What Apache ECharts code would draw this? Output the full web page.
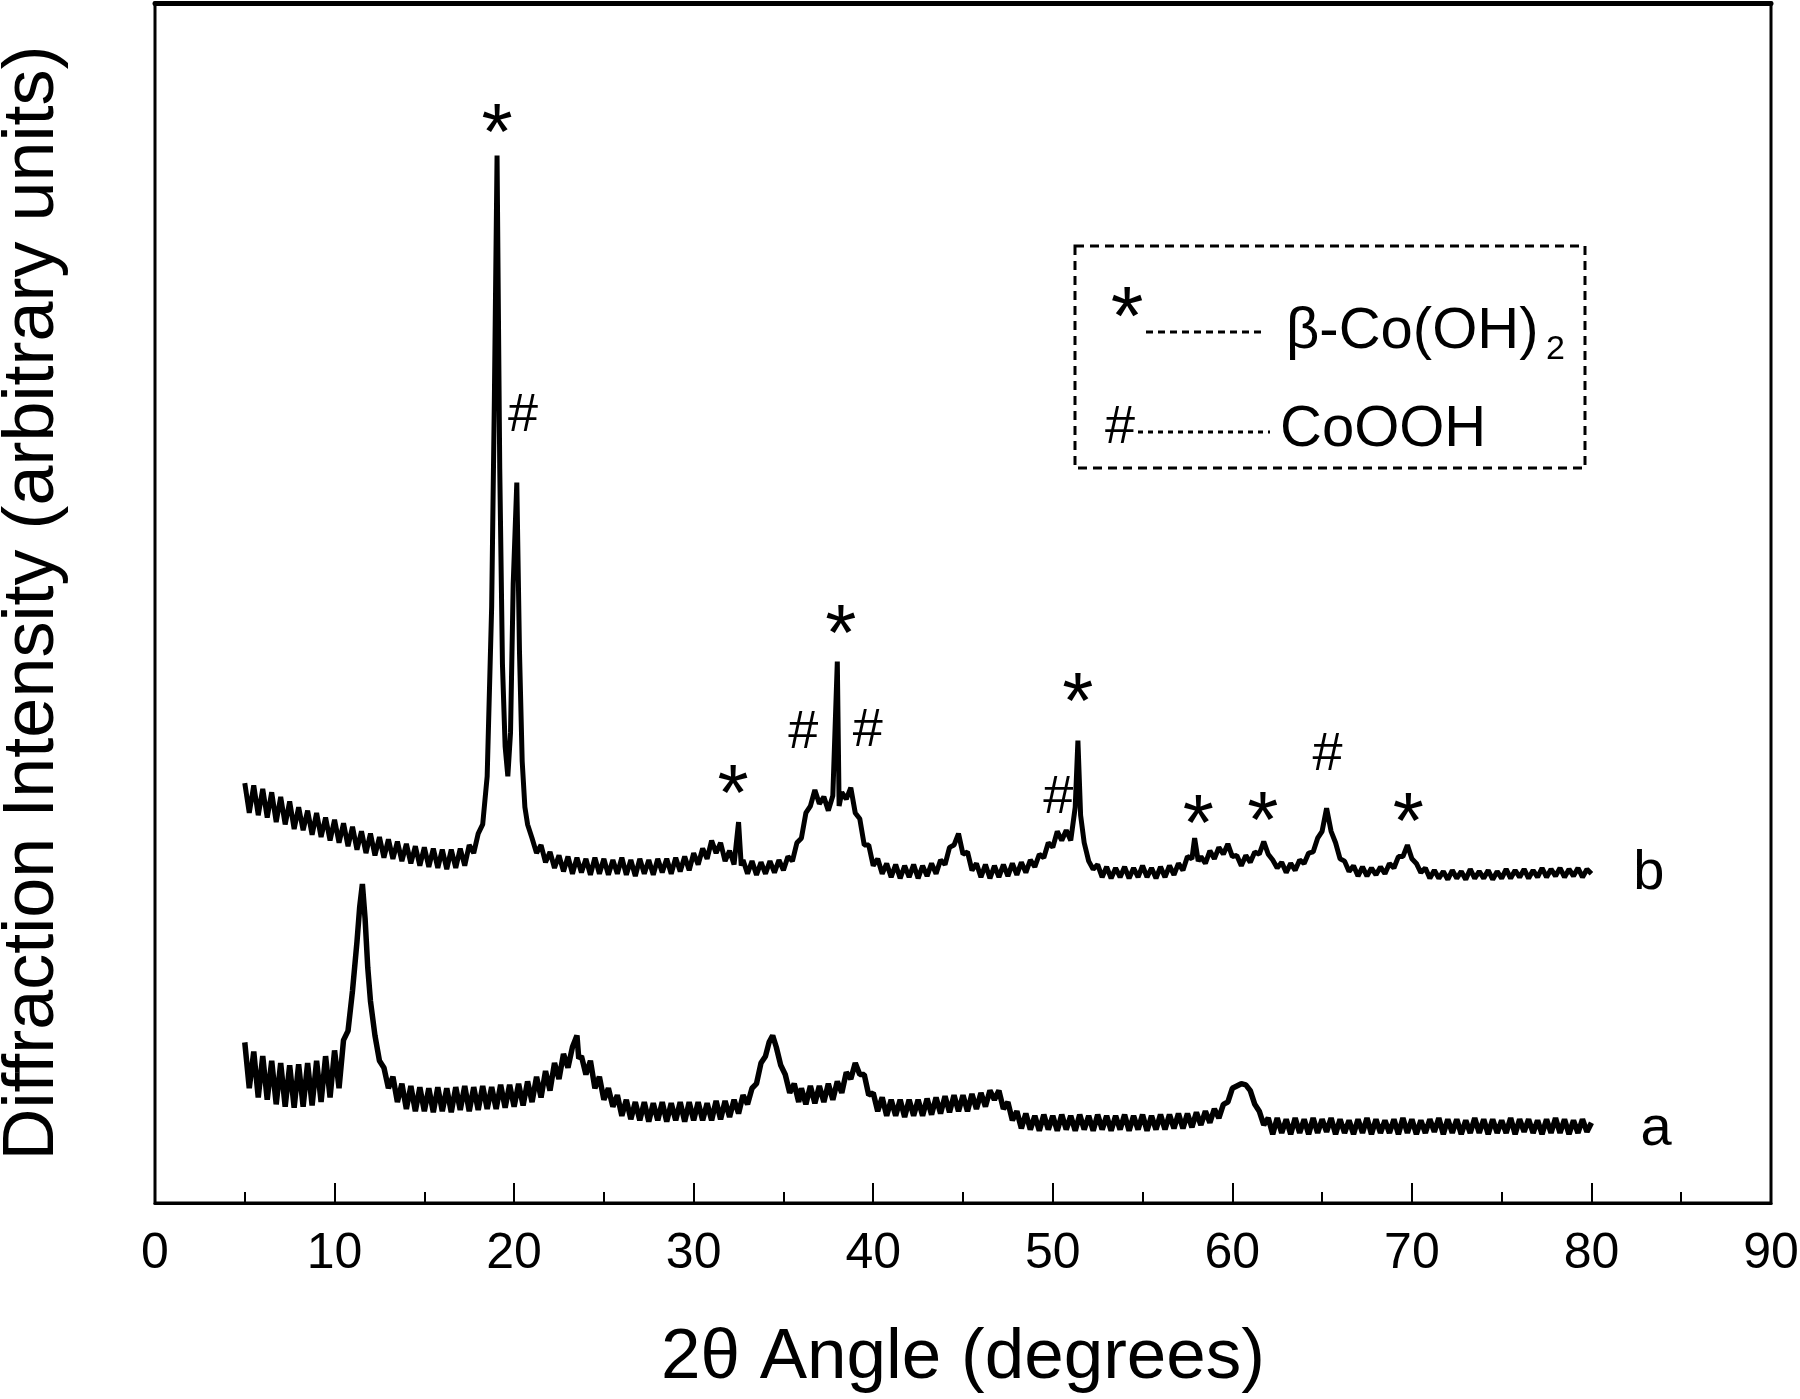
<!DOCTYPE html>
<html>
<head>
<meta charset="utf-8">
<title>XRD patterns a and b</title>
<script src="https://cdn.jsdelivr.net/npm/echarts@6/dist/echarts.min.js"></script>
<style>
  html, body { margin: 0; padding: 0; background: #fff; }
  #chart { width: 1800px; height: 1399px; }
</style>
</head>
<body>
<div id="chart"></div>
<script>
// pattern a (lower curve): [2θ, intensity], intensity in arbitrary units
const patternA = [
  [5.00,140],[5.25,100],[5.50,132],[5.75,92],[6.00,128],[6.25,90],[6.50,124],[6.75,86],
  [7.00,122],[7.25,84],[7.50,120],[7.75,83],[8.00,121],[8.25,84],[8.50,122],[8.75,85],
  [9.00,124],[9.25,88],[9.50,128],[9.75,92],[10.00,133],[10.25,100],[10.50,142],[10.75,150],
  [11.00,185],[11.25,228],[11.40,258],[11.55,278],[11.70,248],[11.85,205],[12.00,176],[12.25,146],
  [12.50,124],[12.75,118],[13.00,100],[13.25,110],[13.50,88],[13.75,104],[14.00,82],[14.25,102],
  [14.50,80],[14.75,101],[15.00,80],[15.25,100],[15.50,79],[15.75,101],[16.00,80],[16.25,100],
  [16.50,79],[16.75,101],[17.00,81],[17.25,102],[17.50,80],[17.75,101],[18.00,81],[18.25,102],
  [18.50,82],[18.75,101],[19.00,82],[19.25,103],[19.50,83],[19.75,103],[20.00,84],[20.25,104],
  [20.50,85],[20.75,106],[21.00,88],[21.25,110],[21.50,92],[21.75,115],[22.00,98],[22.25,122],
  [22.50,108],[22.75,130],[23.00,118],[23.25,136],[23.50,146],[23.60,126],[23.75,128],[24.00,112],
  [24.25,124],[24.50,100],[24.75,110],[25.00,90],[25.25,100],[25.50,84],[25.75,94],[26.00,76],
  [26.25,90],[26.50,73],[26.75,88],[27.00,72],[27.25,88],[27.50,71],[27.75,87],[28.00,72],
  [28.25,88],[28.50,71],[28.75,87],[29.00,72],[29.25,88],[29.50,71],[29.75,88],[30.00,72],
  [30.25,88],[30.50,72],[30.75,87],[31.00,72],[31.25,89],[31.50,73],[31.75,89],[32.00,75],
  [32.25,90],[32.50,78],[32.75,94],[33.00,86],[33.25,100],[33.50,104],[33.75,122],[34.00,128],
  [34.20,140],[34.40,146],[34.60,136],[34.85,120],[35.10,112],[35.35,96],[35.60,104],[35.85,88],
  [36.00,100],[36.25,86],[36.50,102],[36.75,87],[37.00,102],[37.25,88],[37.50,104],[37.75,90],
  [38.00,106],[38.25,96],[38.50,114],[38.75,108],[39.00,122],[39.25,112],[39.50,112],[39.75,94],
  [40.00,96],[40.25,80],[40.50,92],[40.75,76],[41.00,90],[41.25,76],[41.50,90],[41.75,75],
  [42.00,90],[42.25,76],[42.50,90],[42.75,76],[43.00,91],[43.25,77],[43.50,92],[43.75,78],
  [44.00,93],[44.25,79],[44.50,94],[44.75,80],[45.00,94],[45.25,80],[45.50,95],[45.75,82],
  [46.00,96],[46.25,84],[46.50,98],[46.75,90],[47.00,98],[47.25,82],[47.50,88],[47.75,72],
  [48.00,80],[48.25,65],[48.50,78],[48.75,64],[49.00,76],[49.25,63],[49.50,77],[49.75,64],
  [50.00,76],[50.25,63],[50.50,77],[50.75,64],[51.00,76],[51.25,63],[51.50,77],[51.75,64],
  [52.00,76],[52.25,63],[52.50,77],[52.75,64],[53.00,76],[53.25,63],[53.50,76],[53.75,64],
  [54.00,77],[54.25,63],[54.50,76],[54.75,64],[55.00,77],[55.25,63],[55.50,76],[55.75,64],
  [56.00,77],[56.25,64],[56.50,77],[56.75,65],[57.00,78],[57.25,65],[57.50,78],[57.75,66],
  [58.00,79],[58.25,68],[58.50,80],[58.75,70],[59.00,82],[59.25,74],[59.50,86],[59.75,88],
  [60.00,100],[60.25,102],[60.50,104],[60.75,103],[61.00,98],[61.25,86],[61.50,80],[61.75,68],
  [62.00,74],[62.25,60],[62.50,74],[62.75,61],[63.00,73],[63.25,60],[63.50,74],[63.75,61],
  [64.00,73],[64.25,60],[64.50,74],[64.75,61],[65.00,73],[65.25,62],[65.50,74],[65.75,60],
  [66.00,73],[66.25,61],[66.50,72],[66.75,60],[67.00,73],[67.25,61],[67.50,74],[67.75,60],
  [68.00,73],[68.25,61],[68.50,72],[68.75,61],[69.00,73],[69.25,60],[69.50,74],[69.75,61],
  [70.00,73],[70.25,60],[70.50,72],[70.75,61],[71.00,73],[71.25,62],[71.50,74],[71.75,60],
  [72.00,73],[72.25,61],[72.50,73],[72.75,60],[73.00,72],[73.25,61],[73.50,74],[73.75,61],
  [74.00,73],[74.25,60],[74.50,73],[74.75,61],[75.00,72],[75.25,61],[75.50,74],[75.75,60],
  [76.00,73],[76.25,62],[76.50,73],[76.75,61],[77.00,72],[77.25,60],[77.50,73],[77.75,61],
  [78.00,74],[78.25,61],[78.50,73],[78.75,60],[79.00,72],[79.25,61],[79.50,73],[79.75,62],
  [80.00,70]
];

// pattern b (upper curve)
const patternB = [
  [5.00,366],[5.25,340],[5.50,364],[5.75,338],[6.00,361],[6.25,336],[6.50,358],[6.75,332],
  [7.00,354],[7.25,330],[7.50,350],[7.75,326],[8.00,345],[8.25,325],[8.50,342],[8.75,321],
  [9.00,340],[9.25,319],[9.50,336],[9.75,316],[10.00,334],[10.25,314],[10.50,331],[10.75,311],
  [11.00,328],[11.25,308],[11.50,324],[11.75,305],[12.00,322],[12.25,303],[12.50,319],[12.75,301],
  [13.00,317],[13.25,300],[13.50,315],[13.75,298],[14.00,313],[14.25,296],[14.50,311],[14.75,294],
  [15.00,310],[15.25,293],[15.50,309],[15.75,292],[16.00,308],[16.25,291],[16.50,308],[16.75,292],
  [17.00,309],[17.25,294],[17.50,312],[17.75,305],[18.00,322],[18.25,330],[18.50,372],[18.75,520],
  [18.90,700],[19.05,913],[19.20,640],[19.35,470],[19.50,398],[19.65,372],[19.80,410],[19.95,540],
  [20.15,628],[20.30,480],[20.45,385],[20.60,345],[20.75,330],[21.00,318],[21.25,305],[21.50,312],
  [21.75,297],[22.00,306],[22.25,292],[22.50,303],[22.75,289],[23.00,302],[23.25,287],[23.50,301],
  [23.75,288],[24.00,300],[24.25,286],[24.50,301],[24.75,287],[25.00,300],[25.25,286],[25.50,299],
  [25.75,287],[26.00,301],[26.25,286],[26.50,299],[26.75,285],[27.00,300],[27.25,287],[27.50,299],
  [27.75,286],[28.00,300],[28.25,288],[28.50,300],[28.75,287],[29.00,301],[29.25,289],[29.50,302],
  [29.75,290],[30.00,305],[30.25,295],[30.50,309],[30.75,300],[31.00,316],[31.25,305],[31.50,314],
  [31.75,298],[32.00,307],[32.25,295],[32.50,332],[32.65,294],[32.75,299],[33.00,287],[33.25,298],
  [33.50,286],[33.75,297],[34.00,287],[34.25,298],[34.50,288],[34.75,299],[35.00,290],[35.25,302],
  [35.50,298],[35.75,314],[36.00,318],[36.25,340],[36.50,346],[36.75,360],[37.00,348],[37.25,354],
  [37.50,342],[37.75,355],[38.00,472],[38.10,346],[38.25,358],[38.50,352],[38.75,362],[39.00,340],
  [39.25,335],[39.50,312],[39.75,312],[40.00,294],[40.25,300],[40.50,287],[40.75,296],[41.00,284],
  [41.25,295],[41.50,283],[41.75,294],[42.00,284],[42.25,295],[42.50,283],[42.75,294],[43.00,285],
  [43.25,296],[43.50,287],[43.75,299],[44.00,295],[44.25,310],[44.50,312],[44.75,322],[45.00,304],
  [45.25,306],[45.50,290],[45.75,296],[46.00,284],[46.25,295],[46.50,283],[46.75,294],[47.00,284],
  [47.25,295],[47.50,285],[47.75,296],[48.00,286],[48.25,297],[48.50,288],[48.75,299],[49.00,293],
  [49.25,304],[49.50,301],[49.75,314],[50.00,310],[50.25,324],[50.50,316],[50.75,325],[51.00,316],
  [51.25,345],[51.40,403],[51.55,338],[51.75,314],[52.00,298],[52.25,291],[52.50,295],[52.75,284],
  [53.00,293],[53.25,283],[53.50,292],[53.75,284],[54.00,293],[54.25,283],[54.50,292],[54.75,284],
  [55.00,294],[55.25,284],[55.50,292],[55.75,283],[56.00,293],[56.25,284],[56.50,294],[56.75,286],
  [57.00,296],[57.25,290],[57.50,302],[57.75,300],[57.90,318],[58.10,298],[58.25,302],[58.50,296],
  [58.75,307],[59.00,300],[59.25,310],[59.50,304],[59.75,313],[60.00,302],[60.25,303],[60.50,294],
  [60.75,303],[61.00,297],[61.25,306],[61.50,304],[61.75,315],[62.00,304],[62.25,299],[62.50,292],
  [62.75,297],[63.00,288],[63.25,296],[63.50,290],[63.75,299],[64.00,296],[64.25,305],[64.50,306],
  [64.75,318],[65.00,324],[65.25,344],[65.50,324],[65.75,314],[66.00,300],[66.25,298],[66.50,289],
  [66.75,294],[67.00,285],[67.25,293],[67.50,285],[67.75,292],[68.00,286],[68.25,293],[68.50,287],
  [68.75,296],[69.00,292],[69.25,302],[69.50,302],[69.75,312],[70.00,300],[70.25,296],[70.50,288],
  [70.75,292],[71.00,283],[71.25,290],[71.50,283],[71.75,289],[72.00,282],[72.25,290],[72.50,283],
  [72.75,289],[73.00,282],[73.25,291],[73.50,283],[73.75,289],[74.00,283],[74.25,290],[74.50,282],
  [74.75,289],[75.00,283],[75.25,291],[75.50,283],[75.75,290],[76.00,284],[76.25,291],[76.50,283],
  [76.75,290],[77.00,284],[77.25,292],[77.50,284],[77.75,291],[78.00,285],[78.25,292],[78.50,284],
  [78.75,291],[79.00,285],[79.25,292],[79.50,284],[79.75,291],[80.00,287]
];

// phase markers over pattern b (* = β-Co(OH)2, # = CoOOH)
const markAngles  = [19.05, 20.5, 32.2, 36.1, 38.2, 39.7, 50.3, 51.4, 58.1, 61.7, 65.3, 69.8];
const markHeights = [945, 686, 369, 410, 508, 411, 353, 449, 343, 345, 390, 344];
const markSymbols = ['*', '#', '*', '#', '*', '#', '#', '*', '*', '*', '#', '*'];

// curve names at the right end
const curveNames   = ['a', 'b'];
const curveAngles  = [83.6, 83.2];
const curveHeights = [64, 287];

const FONT = '"Liberation Sans", Arial, sans-serif';

const chart = echarts.init(document.getElementById('chart'));

const markerData = markAngles.map((a, i) => ({
  value: [a, markHeights[i]],
  label: markSymbols[i] === '*'
    ? { fontSize: 80, offset: [0, 18] }
    : { fontSize: 54 }
}));

const option = {
  animation: false,
  backgroundColor: '#fff',
  grid: {
    left: 155, right: 29, top: 3, bottom: 196,
    outerBoundsMode: 'none', containLabel: false,
    show: true, borderColor: '#000', borderWidth: 3
  },
  xAxis: [
    {
      type: 'value', min: 0, max: 90, interval: 10,
      name: '2θ Angle (degrees)',
      nameLocation: 'middle', nameGap: 120,
      nameTextStyle: { fontSize: 71, color: '#000', fontFamily: FONT },
      axisLine: { show: true, lineStyle: { color: '#000', width: 3 } },
      axisTick: { show: true, inside: true, length: 20, lineStyle: { color: '#000', width: 2 } },
      minorTick: { show: true, splitNumber: 2, length: 11, lineStyle: { color: '#000', width: 2 } },
      axisLabel: { fontSize: 50, color: '#000', fontFamily: FONT, margin: 26 },
      splitLine: { show: false }
    },
    {
      type: 'value', min: 0, max: 90, position: 'top',
      axisLine: { show: true, lineStyle: { color: '#000', width: 5 } },
      axisTick: { show: false }, axisLabel: { show: false }, splitLine: { show: false }
    }
  ],
  yAxis: {
    type: 'value', min: 0, max: 1046,
    name: 'Diffraction Intensity (arbitrary units)',
    nameLocation: 'middle', nameGap: 86, nameRotate: 90,
    nameTextStyle: { fontSize: 72, color: '#000', fontFamily: FONT },
    axisLine: { show: false }, axisTick: { show: false },
    axisLabel: { show: false }, splitLine: { show: false }
  },
  series: [
    {
      name: 'a', type: 'line', data: patternA, showSymbol: false, silent: true,
      lineStyle: { color: '#000', width: 5.5 }
    },
    {
      name: 'b', type: 'line', data: patternB, showSymbol: false, silent: true,
      lineStyle: { color: '#000', width: 5 }
    },
    {
      type: 'scatter', data: markerData, symbolSize: 1, silent: true,
      itemStyle: { color: 'rgba(0,0,0,0)', opacity: 1 },
      label: {
        show: true, position: 'inside', color: '#000', fontFamily: FONT, opacity: 1,
        formatter: p => markSymbols[p.dataIndex]
      }
    },
    {
      type: 'scatter', symbolSize: 1, silent: true,
      data: curveAngles.map((a, i) => [a, curveHeights[i]]),
      itemStyle: { color: 'rgba(0,0,0,0)', opacity: 1 },
      label: {
        show: true, position: 'inside', color: '#000', fontFamily: FONT, fontSize: 56, opacity: 1,
        formatter: p => curveNames[p.dataIndex]
      }
    }
  ],
  graphic: [
    {
      type: 'rect', shape: { x: 1075, y: 246, width: 510, height: 222 },
      style: { fill: 'none', stroke: '#000', lineWidth: 3, lineDash: [9, 6] }
    },
    {
      type: 'text', x: 1127, y: 322,
      style: { text: '*', fontSize: 84, fontFamily: FONT, fill: '#000', align: 'center', verticalAlign: 'middle' }
    },
    {
      type: 'line', shape: { x1: 1146, y1: 332, x2: 1262, y2: 332 },
      style: { stroke: '#000', lineWidth: 3, lineDash: [7, 5] }
    },
    {
      type: 'text', x: 1286, y: 332,
      style: { text: 'β-Co(OH)', fontSize: 58, fontFamily: FONT, fill: '#000', align: 'left', verticalAlign: 'middle' }
    },
    {
      type: 'text', x: 1546, y: 350,
      style: { text: '2', fontSize: 34, fontFamily: FONT, fill: '#000', align: 'left', verticalAlign: 'middle' }
    },
    {
      type: 'text', x: 1120, y: 428,
      style: { text: '#', fontSize: 54, fontFamily: FONT, fill: '#000', align: 'center', verticalAlign: 'middle' }
    },
    {
      type: 'line', shape: { x1: 1138, y1: 432, x2: 1270, y2: 432 },
      style: { stroke: '#000', lineWidth: 3, lineDash: [5, 5] }
    },
    {
      type: 'text', x: 1280, y: 430,
      style: { text: 'CoOOH', fontSize: 58, fontFamily: FONT, fill: '#000', align: 'left', verticalAlign: 'middle' }
    }
  ]
};

chart.setOption(option);
</script>
</body>
</html>
